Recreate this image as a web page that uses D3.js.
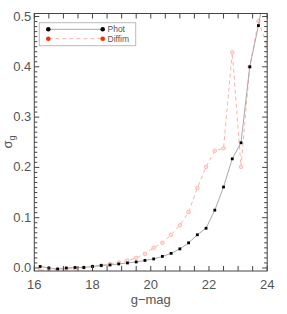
<!DOCTYPE html>
<html><head><meta charset="utf-8">
<script src="https://cdn.jsdelivr.net/npm/d3@7"></script>
<style>body{margin:0;background:#fff;} svg{display:block;font-family:"Liberation Sans",Arial,sans-serif;}</style>
</head><body><svg id="c" width="287" height="314"></svg>
<script>
const mags = [16.2,16.5,16.8,17.1,17.4,17.7,18.0,18.3,18.6,18.9,19.2,19.5,19.8,20.1,20.4,20.7,21.0,21.3,21.6,21.9,22.2,22.5,22.8,23.1,23.4,23.7,24.0];
const phot = [0.003,0.000,-0.002,0.000,0.001,0.001,0.003,0.005,0.006,0.008,0.010,0.012,0.015,0.018,0.023,0.029,0.038,0.050,0.066,0.079,0.115,0.161,0.217,0.249,0.400,0.482,0.58];
const diffim = [-0.005,-0.004,-0.003,-0.002,-0.001,0.001,0.003,0.005,0.008,0.011,0.015,0.020,0.028,0.040,0.050,0.066,0.085,0.111,0.159,0.201,0.233,0.238,0.429,0.201,0.400,0.491,0.44];
const xTicks = [16,18,20,22,24];
const yTicks = [0.0,0.1,0.2,0.3,0.4,0.5];
const seriesNames = ["Phot","Diffim"];

const svg = d3.select("#c");
const L=34.3,R=267.2,T=13.5,B=271;
const x = d3.scaleLinear().domain([16,24]).range([L,R]);
const y = d3.scaleLinear().domain([-0.006,0.506]).range([B,T]);
const axisCol="#444", txtCol="#555";

svg.append("defs").append("clipPath").attr("id","clip")
  .append("rect").attr("x",L).attr("y",T).attr("width",R-L).attr("height",B-T);

const g = svg.append("g").attr("clip-path","url(#clip)");
const line = d3.line().x(d=>x(d[0])).y(d=>y(d[1]));
const dD = mags.map((m,i)=>[m,diffim[i]]);
const dP = mags.map((m,i)=>[m,phot[i]]);
g.append("path").datum(dD).attr("d",line).attr("fill","none").attr("stroke","#fbb4ac").attr("stroke-width",1).attr("stroke-dasharray","4,3");
g.selectAll("circle.d").data(dD).enter().append("circle").attr("class","d")
  .attr("cx",d=>x(d[0])).attr("cy",d=>y(d[1])).attr("r",1.8).attr("fill","#fde0dc").attr("stroke","#fbb0a6").attr("stroke-width",0.8);
g.append("path").datum(dP).attr("d",line).attr("fill","none").attr("stroke","#a8a8a8").attr("stroke-width",1);
g.selectAll("rect.p").data(dP).enter().append("rect").attr("class","p")
  .attr("x",d=>x(d[0])-1.4).attr("y",d=>y(d[1])-1.4).attr("width",2.8).attr("height",2.8).attr("fill","#000");

const ax = svg.append("g").attr("stroke",axisCol).attr("stroke-width",1).attr("fill","none");
ax.append("rect").attr("x",L).attr("y",T).attr("width",R-L).attr("height",B-T);
const xMinor = d3.range(16,24.01,0.5);
xMinor.forEach(v=>{
  const len = 5;
  ax.append("line").attr("x1",x(v)).attr("x2",x(v)).attr("y1",B).attr("y2",B-len);
  ax.append("line").attr("x1",x(v)).attr("x2",x(v)).attr("y1",T).attr("y2",T+len);
});
const yMinor = d3.range(0,0.5001,0.01);
yMinor.forEach((v,i)=>{
  const len = (i%10===0)?5:3;
  ax.append("line").attr("y1",y(v)).attr("y2",y(v)).attr("x1",L).attr("x2",L+len);
  ax.append("line").attr("y1",y(v)).attr("y2",y(v)).attr("x1",R).attr("x2",R-len);
});
svg.selectAll("text.xt").data(xTicks).enter().append("text").attr("class","xt")
  .attr("x",d=>x(d)).attr("y",B+18).attr("text-anchor","middle").attr("font-size",13).attr("fill",txtCol).text(d=>d);
svg.selectAll("text.yt").data(yTicks).enter().append("text").attr("class","yt")
  .attr("x",L-3).attr("y",d=>y(d)+4).attr("text-anchor","end").attr("font-size",13).attr("fill",txtCol).text(d=>d.toFixed(1));
svg.append("text").attr("x",(L+R)/2).attr("y",B+33).attr("text-anchor","middle").attr("font-size",13).attr("fill",txtCol).text("g−mag");
const yl = svg.append("text").attr("transform","translate(12,142) rotate(-90)").attr("text-anchor","middle").attr("font-size",13).attr("fill",txtCol);
yl.append("tspan").text("σ");
yl.append("tspan").attr("font-size",9).attr("dy",3).text("g");

const lg = svg.append("g");
lg.append("rect").attr("x",39.3).attr("y",22.7).attr("width",96.4).attr("height",23).attr("fill","#fff").attr("stroke","#bbb");
const rows=[{c:"#000",lc:"#a8a8a8",dash:null},{c:"#ff2a00",lc:"#fbb4ac",dash:"4,3"}];
seriesNames.forEach((n,i)=>{
  const yy = 29.3+i*9.4;
  lg.append("line").attr("x1",48.3).attr("x2",102.7).attr("y1",yy).attr("y2",yy).attr("stroke",rows[i].lc).attr("stroke-dasharray",rows[i].dash);
  [48.3,102.7].forEach(xx=>lg.append("circle").attr("cx",xx).attr("cy",yy).attr("r",2.3).attr("fill",rows[i].c));
  lg.append("text").attr("x",107.5).attr("y",yy+3).attr("font-size",8.5).attr("fill",txtCol).text(n);
});
</script></body></html>
